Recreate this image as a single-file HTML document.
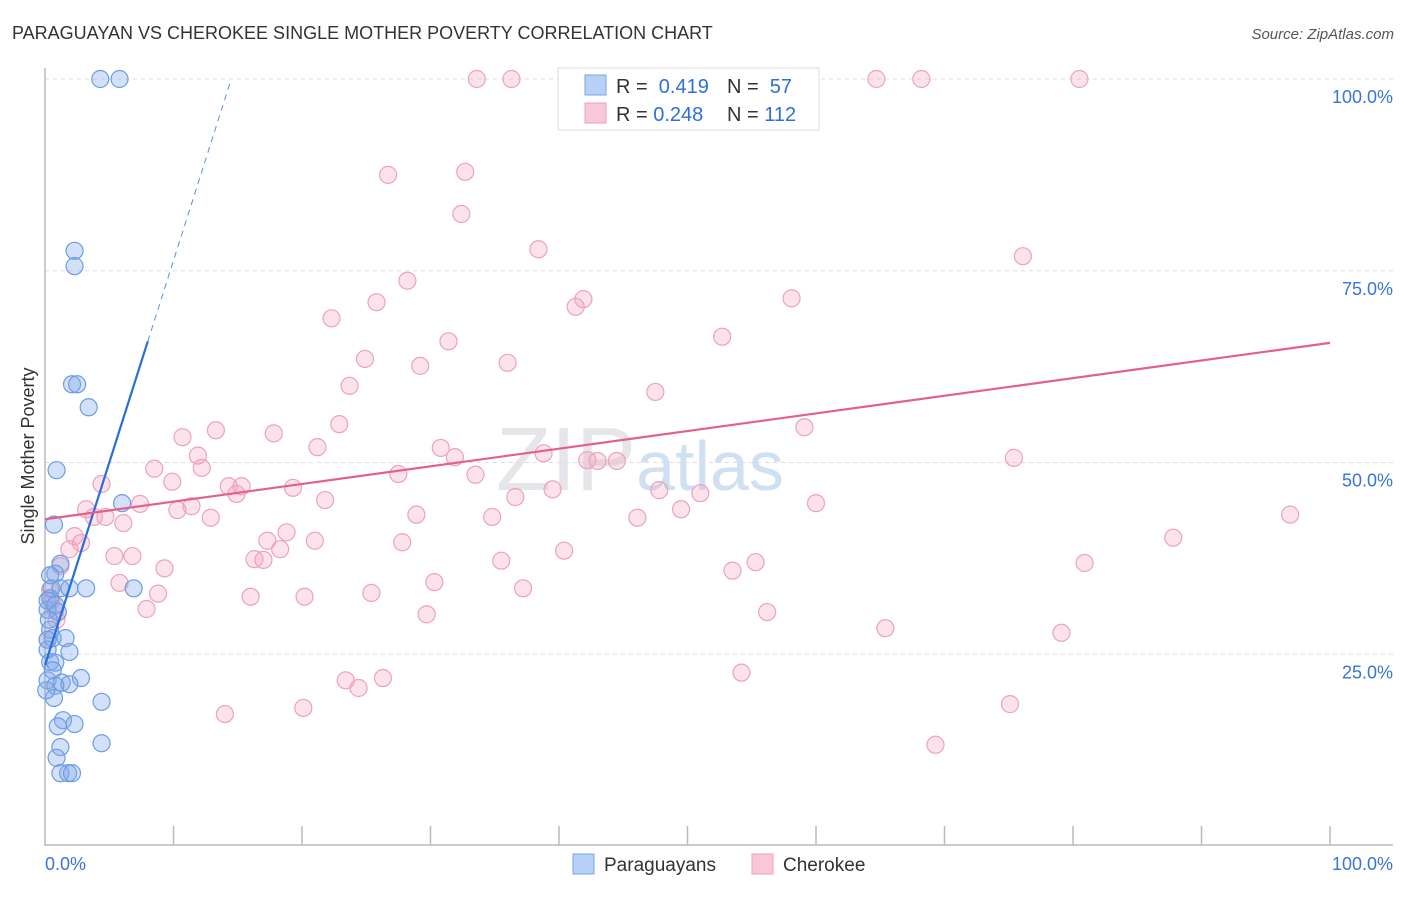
<!DOCTYPE html>
<html><head><meta charset="utf-8"><style>
body{margin:0;background:#fff;font-family:"Liberation Sans",sans-serif;}
svg text{font-family:"Liberation Sans",sans-serif;}
</style></head><body>
<svg id="chart" width="1406" height="892">
<text x="12" y="39" font-size="18" fill="#333">PARAGUAYAN VS CHEROKEE SINGLE MOTHER POVERTY CORRELATION CHART</text>
<text x="1394" y="39" font-size="15" fill="#555" text-anchor="end" font-style="italic">Source: ZipAtlas.com</text>
<text x="640" y="490" font-size="90" fill="#e6e6ea" text-anchor="middle" font-family="Liberation Serif">ZIP<tspan fill="#cfe0f3" font-family="Liberation Sans" font-size="70">atlas</tspan></text>
<g id="grid"></g>
<g id="pts"></g>
<g id="lines"></g>
<text x="34" y="456" font-size="18" fill="#333" text-anchor="middle" transform="rotate(-90 34 456)">Single Mother Poverty</text>
<g>
<rect x="558" y="68" width="261" height="62" fill="#fff" stroke="#ddd"/>
<rect x="585" y="75" width="21" height="20" fill="#b7d0f5" stroke="#7aa6e6"/>
<rect x="585" y="103" width="21" height="20" fill="#f9c8d6" stroke="#ec9fb8"/>
<text x="616" y="93" font-size="20" fill="#333">R = <tspan fill="#2f6fd6">&#160;0.419</tspan><tspan x="727">N = </tspan><tspan fill="#2f6fd6">&#160;57</tspan></text>
<text x="616" y="121" font-size="20" fill="#333">R = <tspan fill="#2f6fd6">0.248</tspan><tspan x="727">N = </tspan><tspan fill="#2f6fd6">112</tspan></text>
</g>
<g>
<rect x="573" y="854" width="21" height="20" fill="#b7d0f5" stroke="#7aa6e6"/>
<text x="604" y="871" font-size="19" fill="#333">Paraguayans</text>
<rect x="752" y="854" width="21" height="20" fill="#f9c8d6" stroke="#ec9fb8"/>
<text x="783" y="871" font-size="19" fill="#333">Cherokee</text>
</g>
</svg>
<script>
const yTicks=[25,50,75,100];
const xTickLabels=["0.0%","100.0%"];
const blueX=[4.3,5.8,2.3,2.3,2.1,2.5,3.4,0.9,6,0.7,1.2,0.8,0.5,1.2,1.9,3.2,6.9,0.4,1,0.4,0.6,1.6,0.2,1.9,0.4,0.8,2.8,0.2,1.3,1.9,0.8,0.7,4.4,1.4,2.3,1,1.2,0.9,4.4,1.2,1.8,2.1,0.2,0.2,0.2,0.4,0.3,0.6,0.1,0.8];
const blueY=[100,100,77.6,75.6,60.2,60.2,57.2,49,44.7,41.9,36.8,35.5,33.6,33.6,33.6,33.6,33.6,32.3,30.5,28.2,27.1,27.1,25.6,25.3,24,23.9,21.9,21.6,21.3,21.1,20.9,19.3,18.8,16.4,15.9,15.6,12.9,11.5,13.4,9.5,9.5,9.5,30.8,26.9,32,35.3,29.5,22.9,20.3,31.4];
const pinkX=[33.6,36.3,43.5,52,58.8,64.7,68.2,80.5,26.7,32.7,32.4,38.4,76.1,28.2,25.8,41.9,41.3,58.1,22.3,31.4,52.7,24.9,29.2,36,23.7,47.5,22.9,59.1,13.3,17.8,10.7,21.2,30.8,31.9,38.8,11.9,42.2,43,44.5,75.4,8.5,12.2,33.5,27.5,9.9,14.3,15.3,19.3,39.5,47.8,14.9,4.4,36.6,51,21.8,60,7.4,11.4,10.3,3.2,3.8,4.7,6.1,12.9,28.9,34.8,46.1,49.5,96.9,2.3,2.8,18.8,17.3,21,27.8,87.8,1.9,18.3,5.4,6.8,40.4,16.3,17,35.5,55.3,80.9,9.3,53.5,1.2,5.8,30.3,37.2,8.8,16,20.2,25.4,7.9,29.7,56.2,65.4,79.1,54.2,26.3,23.4,24.4,14,20.1,75.1,69.3,0.5,0.8,0.4,0.9,0.2];
const pinkY=[100,100,100,100,100,100,100,100,87.5,87.9,82.4,77.8,76.9,73.7,70.9,71.3,70.3,71.4,68.8,65.8,66.4,63.5,62.6,63,60,59.2,55,54.6,54.2,53.8,53.3,52,51.9,50.7,51.2,50.9,50.3,50.2,50.2,50.6,49.2,49.3,48.4,48.5,47.5,46.9,46.9,46.7,46.5,46.4,45.9,47.2,45.5,46,45.1,44.7,44.6,44.3,43.8,43.9,42.9,42.9,42.1,42.8,43.2,42.9,42.8,43.9,43.2,40.4,39.5,40.9,39.8,39.8,39.6,40.2,38.7,38.7,37.8,37.8,38.5,37.4,37.3,37.2,37,36.9,36.2,35.9,36.5,34.3,34.4,33.6,32.9,32.5,32.5,33,30.9,30.2,30.5,28.4,27.8,22.6,21.9,21.6,20.6,17.2,18,18.5,13.2,32,30.8,33.4,29.5,26.9];
const blueTrend=[23.6,65.8,99.5]; // y at x=0, x=8, x=14.4
const blueTrendX=[0,8,14.4];
const pinkTrend=[42.6,65.6];
const pinkTrendX=[0,100];
const NS="http://www.w3.org/2000/svg";
const sx=v=>45+v*12.85, sy=v=>846-v*7.67;
function mk(t,a,p){const e=document.createElementNS(NS,t);for(const k in a)e.setAttribute(k,a[k]);p.appendChild(e);return e;}
const grid=document.getElementById('grid');
yTicks.forEach(t=>{
 const l=mk('line',{x1:45,x2:1393,y1:sy(t),y2:sy(t),stroke:'#ddd','stroke-dasharray':'4,4'},grid);
 
 
 const tx=mk('text',{x:1393,y:sy(t)+24,'font-size':18,fill:'#3a74d8','text-anchor':'end'},grid);
 tx.textContent=t.toFixed(1)+'%';
 
 
});
const ax=mk('line',{x1:45,x2:45,y1:68,y2:846,stroke:'#bbb','stroke-width':1.5},grid);


const bx=mk('line',{x1:45,x2:1393,y1:845,y2:845,stroke:'#bbb','stroke-width':1.5},grid);


for(let k=1;k<=10;k++){const t=mk('line',{x1:45+128.5*k,x2:45+128.5*k,y1:826,y2:845,stroke:'#bbb','stroke-width':1.5},grid);
 
 }
[[45,'start',xTickLabels[0]],[1393,'end',xTickLabels[1]]].forEach(a=>{const t=mk('text',{x:a[0],y:870,'font-size':18,fill:'#3a74d8','text-anchor':a[1]},grid);t.textContent=a[2];
 
 });
const pts=document.getElementById('pts');
pinkX.forEach((x,i)=>{const c=mk('circle',{cx:sx(x),cy:sy(pinkY[i]),r:8.5,fill:'rgba(244,160,188,0.3)',stroke:'#eca3bb','stroke-width':1.2},pts);
 
 });
blueX.forEach((x,i)=>{const c=mk('circle',{cx:sx(x),cy:sy(blueY[i]),r:8.5,fill:'rgba(130,170,235,0.35)',stroke:'#6d9de0','stroke-width':1.2},pts);
 
 });
const lines=document.getElementById('lines');
const b1=mk('line',{x1:sx(blueTrendX[0]),y1:sy(blueTrend[0]),x2:sx(blueTrendX[1]),y2:sy(blueTrend[1]),stroke:'#2a6fd8','stroke-width':2.2},lines);


const b2=mk('line',{x1:sx(blueTrendX[1]),y1:sy(blueTrend[1]),x2:sx(blueTrendX[2]),y2:sy(blueTrend[2]),stroke:'#5a90e0','stroke-width':1,'stroke-dasharray':'6,5'},lines);


const p1=mk('line',{x1:sx(pinkTrendX[0]),y1:sy(pinkTrend[0]),x2:sx(pinkTrendX[1]),y2:sy(pinkTrend[1]),stroke:'#e4608c','stroke-width':2.2},lines);


</script>
</body></html>
